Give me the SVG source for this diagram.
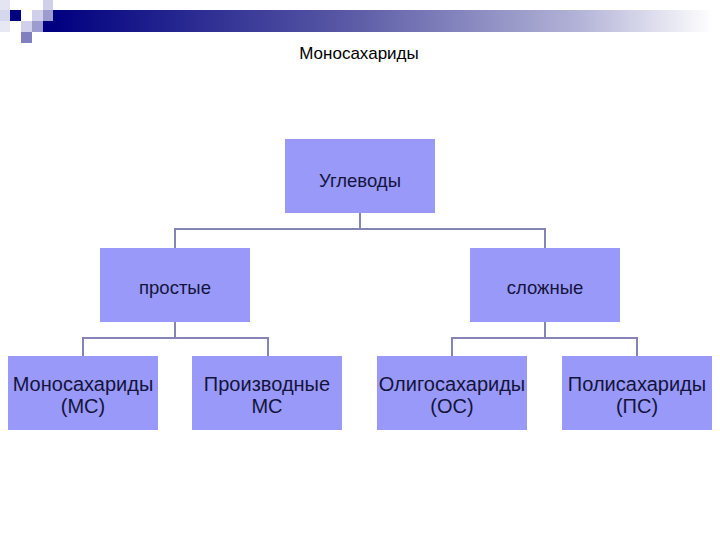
<svg xmlns="http://www.w3.org/2000/svg" width="720" height="540" viewBox="0 0 720 540">
<defs>
<linearGradient id="bar" x1="0" y1="0" x2="1" y2="0">
<stop offset="0" stop-color="#000080"/>
<stop offset="0.45" stop-color="#5a5aa6"/>
<stop offset="0.8" stop-color="#b4b4d8"/>
<stop offset="1" stop-color="#ffffff"/>
</linearGradient>
</defs>
<style>
.box{fill:#9999fa;}
.t{font-family:"Liberation Sans",Arial,sans-serif;font-size:18.5px;fill:#14143a;text-anchor:middle;}
.b{font-size:20px;}
.c{fill:none;stroke:#8585b5;stroke-width:2;}
</style>
<rect width="720" height="540" fill="#ffffff"/>
<g id="decor">
<rect x="53" y="10" width="660" height="22" fill="url(#bar)"/>
<rect x="43" y="21" width="10" height="11" fill="#000080"/>
<rect x="0" y="0" width="10" height="10" fill="#e4e4f2"/>
<rect x="0" y="10" width="10" height="11" fill="#d6d6ec"/>
<rect x="0" y="21" width="10" height="11" fill="#e8e8f4"/>
<rect x="10" y="10" width="11" height="11" fill="#000080"/>
<rect x="32" y="10" width="11" height="11" fill="#d0d0ea"/>
<rect x="43" y="0" width="10" height="10" fill="#d0d0ea"/>
<rect x="43" y="10" width="10" height="11" fill="#9c9cd0"/>
<rect x="21" y="21" width="11" height="11" fill="#d0d0ea"/>
<rect x="32" y="21" width="11" height="11" fill="#9c9cd0"/>
<rect x="21" y="32" width="11" height="11" fill="#8080c0"/>
</g>
<text x="359" y="59" style="font-family:'Liberation Sans',Arial,sans-serif;font-size:17px;fill:#000;text-anchor:middle">Моносахариды</text>
<g id="connectors">
<path class="c" d="M360 213V229M175 229H545M175 228V248M545 228V248"/>
<path class="c" d="M175 322V338M83 338H268M83 337V356M268 337V356"/>
<path class="c" d="M545 322V338M452 338H637M452 337V356M637 337V356"/>
</g>
<g id="n-uglevody"><rect class="box" x="285" y="139" width="150" height="74"/><text class="t" x="360" y="187">Углеводы</text></g>
<g id="n-prostye"><rect class="box" x="100" y="248" width="150" height="74"/><text class="t" x="175" y="294">простые</text></g>
<g id="n-slozhnye"><rect class="box" x="470" y="248" width="150" height="74"/><text class="t" x="545" y="294">сложные</text></g>
<g id="n-ms"><rect class="box" x="8" y="356" width="150" height="74"/><text class="t b" x="83" y="391">Моносахариды</text><text class="t b" x="83" y="413">(МС)</text></g>
<g id="n-pms"><rect class="box" x="192" y="356" width="150" height="74"/><text class="t b" x="267" y="391">Производные</text><text class="t b" x="267" y="413">МС</text></g>
<g id="n-os"><rect class="box" x="377" y="356" width="150" height="74"/><text class="t b" x="452" y="391">Олигосахариды</text><text class="t b" x="452" y="413">(ОС)</text></g>
<g id="n-ps"><rect class="box" x="562" y="356" width="150" height="74"/><text class="t b" x="637" y="391">Полисахариды</text><text class="t b" x="637" y="413">(ПС)</text></g>
</svg>
